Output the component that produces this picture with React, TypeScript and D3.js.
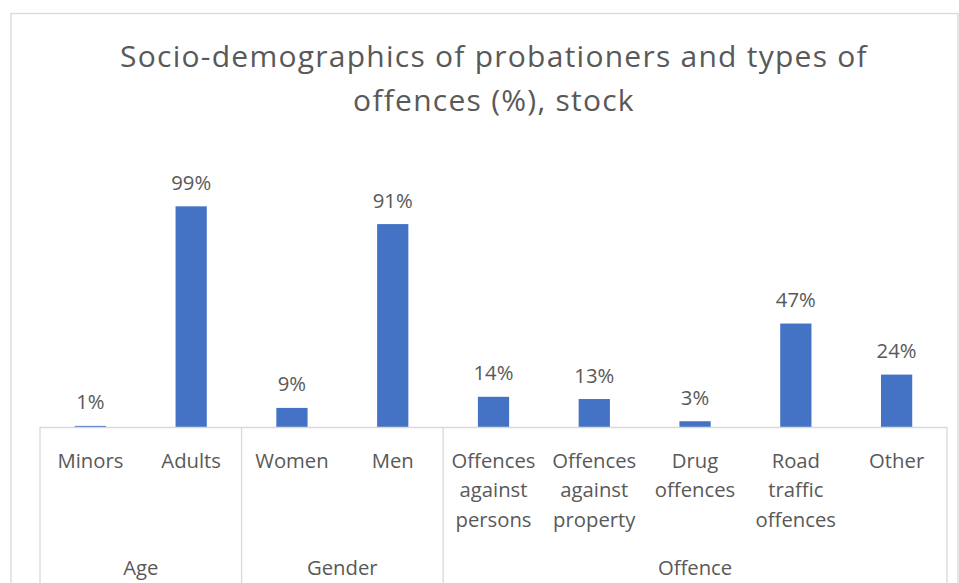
import React from "react";
import * as d3 from "d3";

const groups = ["Age", "Gender", "Offence"];
const categories = [
  "Minors",
  "Adults",
  "Women",
  "Men",
  "Offences against persons",
  "Offences against property",
  "Drug offences",
  "Road traffic offences",
  "Other",
];
const categoryGroups = ["Age", "Age", "Gender", "Gender", "Offence", "Offence", "Offence", "Offence", "Offence"];
const categoryLines = [
  ["Minors"],
  ["Adults"],
  ["Women"],
  ["Men"],
  ["Offences", "against", "persons"],
  ["Offences", "against", "property"],
  ["Drug", "offences"],
  ["Road", "traffic", "offences"],
  ["Other"],
];
// percentages (labels show them rounded)
const values = [0.5, 99.4, 8.6, 91.4, 13.6, 12.6, 2.6, 46.6, 23.6];
const titleLines = ["Socio-demographics of probationers and types of", "offences (%), stock"];

export default function App() {
  const W = 959;
  const H = 583;
  const left = 40;
  const right = 947;
  const base = 427;
  const x = d3.scaleBand<string>().domain(categories).range([left, right]).paddingInner(0.69).paddingOuter(0.345);
  const slot = d3.scaleBand<string>().domain(categories).range([left, right]);
  const y = d3.scaleLinear().domain([0, 100]).range([base, 205]);
  const font = "'Open Sans', sans-serif";
  const textColor = "#595959";
  const lineColor = "#d9d9d9";
  const fs = 20.3;

  const groupBounds = groups.map((g) => {
    const cats = categories.filter((_, i) => categoryGroups[i] === g);
    const x0 = slot(cats[0])!;
    const x1 = slot(cats[cats.length - 1])! + slot.bandwidth();
    return { g, x0, x1 };
  });

  return (
    <svg width={W} height={H} style={{ position: "absolute", left: 0, top: 0 }}>
      <rect x={0} y={0} width={W} height={H} fill="#fff" />
      <rect x={11} y={13.5} width={947} height={600} fill="#fff" stroke={lineColor} strokeWidth={1.3} />
      {titleLines.map((t, i) => (
        <text
          key={i}
          x={494}
          y={67 + i * 44}
          textAnchor="middle"
          fontFamily={font}
          fontSize={30}
          letterSpacing={1.25}
          fill={textColor}
        >
          {t}
        </text>
      ))}
      {categories.map((c, i) => (
        <g key={c}>
          <rect x={x(c)!} y={y(values[i])} width={x.bandwidth()} height={base - y(values[i])} fill="#4472c4" />
          <text
            x={x(c)! + x.bandwidth() / 2}
            y={y(values[i]) - 16.5}
            textAnchor="middle"
            fontFamily={font}
            fontSize={fs}
            fill={textColor}
          >
            {Math.round(values[i])}%
          </text>
          {categoryLines[i].map((l, j) => (
            <text
              key={j}
              x={slot(c)! + slot.bandwidth() / 2}
              y={467.5 + j * 29.5}
              textAnchor="middle"
              fontFamily={font}
              fontSize={fs}
              fill={textColor}
            >
              {l}
            </text>
          ))}
        </g>
      ))}
      <line x1={left} x2={right} y1={base + 0.5} y2={base + 0.5} stroke={lineColor} strokeWidth={1.3} />
      {groupBounds.map((b, i) => (
        <g key={b.g}>
          <line x1={b.x0} x2={b.x0} y1={base} y2={H} stroke={lineColor} strokeWidth={1.3} />
          {i === groupBounds.length - 1 && (
            <line x1={b.x1} x2={b.x1} y1={base} y2={H} stroke={lineColor} strokeWidth={1.3} />
          )}
          <text x={(b.x0 + b.x1) / 2} y={574.5} textAnchor="middle" fontFamily={font} fontSize={fs} fill={textColor}>
            {b.g}
          </text>
        </g>
      ))}
    </svg>
  );
}
